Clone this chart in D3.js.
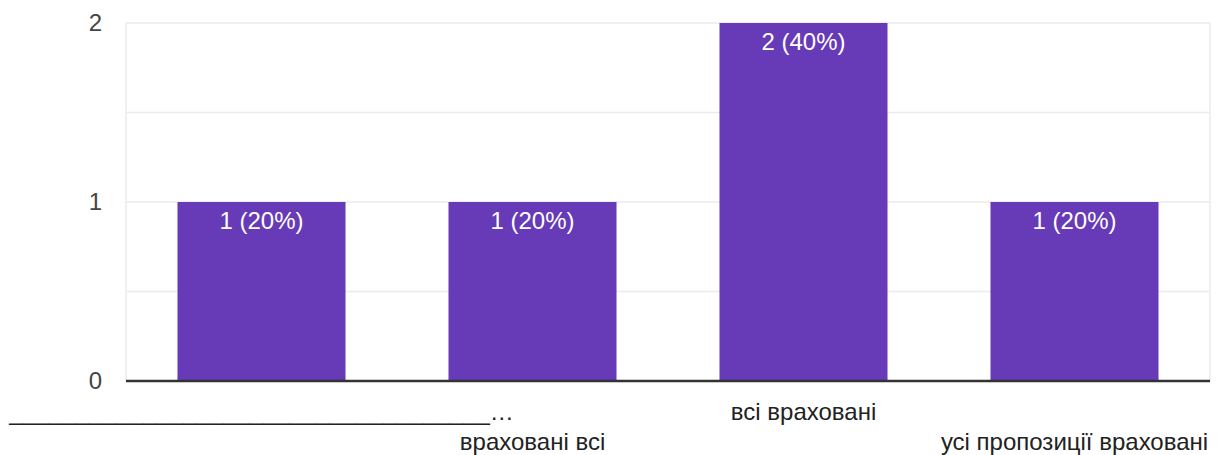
<!DOCTYPE html>
<html><head><meta charset="utf-8">
<script src="https://cdn.jsdelivr.net/npm/d3@7"></script>
<style>body{margin:0;background:#fff}svg{display:block}</style>
</head><body>
<svg id="c" width="1220" height="455"></svg>
<script>
const categories = ["____________________________________…", "враховані всі", "всі враховані", "усі пропозиції враховані"];
const values = [1, 1, 2, 1];
const labels = ["1 (20%)", "1 (20%)", "2 (40%)", "1 (20%)"];
const yTicks = [0, 1, 2];
const gridTicks = [0.5, 1, 1.5, 2];

const svg = d3.select("#c");
const m = {l:126, r:10, t:23, b:74};
const W = 1220, H = 455;
const x = d3.scaleBand().domain(categories).range([m.l, W-m.r]).paddingInner(0.38).paddingOuter(0.19);
const y = d3.scaleLinear().domain([0, 2]).range([H-m.b, m.t]);
const font = "Liberation Sans, Arial, sans-serif";

// grid
svg.append("g").selectAll("line").data(gridTicks).join("line")
  .attr("x1", m.l).attr("x2", W-m.r).attr("y1", d=>y(d)).attr("y2", d=>y(d))
  .attr("stroke", "#ebebeb").attr("stroke-width", 1.5);
svg.append("line").attr("x1", m.l).attr("x2", m.l).attr("y1", m.t).attr("y2", y(0))
  .attr("stroke", "#ebebeb").attr("stroke-width", 1.5);
svg.append("line").attr("x1", W-m.r).attr("x2", W-m.r).attr("y1", m.t).attr("y2", y(0))
  .attr("stroke", "#ebebeb").attr("stroke-width", 1.5);

// bars
svg.append("g").selectAll("rect").data(values).join("rect")
  .attr("x", (d,i)=>x(categories[i])).attr("width", x.bandwidth())
  .attr("y", d=>y(d)).attr("height", d=>y(0)-y(d)).attr("fill", "#673ab7");

svg.append("g").selectAll("text").data(values).join("text")
  .attr("x", (d,i)=>x(categories[i])+x.bandwidth()/2).attr("y", d=>y(d)+26.5)
  .attr("text-anchor", "middle").attr("fill", "#fff")
  .style("font-family", font).style("font-size", "24px")
  .text((d,i)=>labels[i]);

// baseline
svg.append("line").attr("x1", m.l).attr("x2", W-m.r).attr("y1", y(0)).attr("y2", y(0))
  .attr("stroke", "#333").attr("stroke-width", 2.5);

// y axis labels
const ya = d3.axisLeft(y).tickValues(yTicks).tickFormat(d3.format("d")).tickSize(0).tickPadding(24);
const yg = svg.append("g").attr("transform", `translate(${m.l},0)`).call(ya);
yg.select(".domain").remove();
yg.selectAll("text").style("font-family", font).style("font-size", "24px").attr("fill", "#444");

// x axis labels (staggered)
const xa = d3.axisBottom(x).tickSize(0).tickPadding(0);
const xg = svg.append("g").attr("transform", `translate(0,${y(0)})`).call(xa);
xg.select(".domain").remove();
xg.selectAll("text").attr("dy", null).attr("y", (d,i)=> i%2===0 ? 38.5 : 68.5)
  .style("font-family", font).style("font-size", "24px").attr("fill", "#222");
</script>
</body></html>
